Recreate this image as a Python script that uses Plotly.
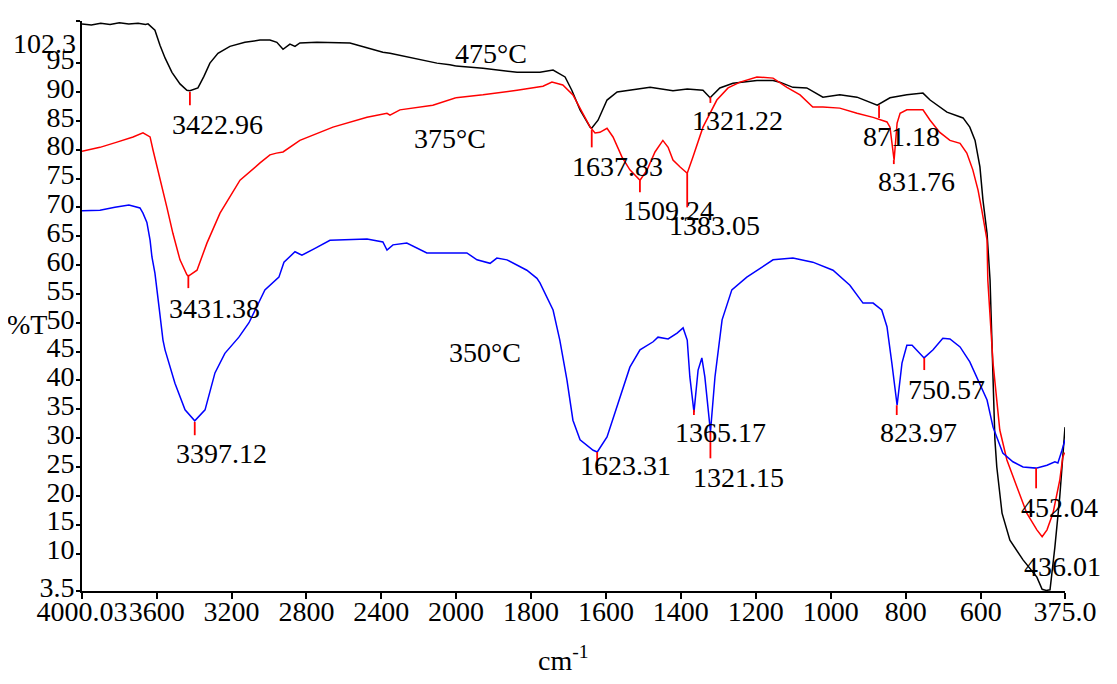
import plotly.graph_objects as go

# ---------------- data ----------------
black_wn = [4000, 3950, 3900, 3850, 3800, 3750, 3700, 3660, 3647, 3610,
            3583, 3556, 3519, 3476, 3439, 3423, 3380, 3348, 3316, 3273,
            3209, 3129, 3048, 2995, 2958, 2925, 2888, 2861, 2835, 2744,
            2567, 2391, 2353, 2247, 2102, 2033, 2000, 1928, 1837, 1776,
            1741, 1709, 1691, 1669, 1642, 1638, 1621, 1597, 1570, 1536,
            1482, 1421, 1383, 1341, 1322, 1296, 1261, 1197, 1154, 1136,
            1101, 1064, 1021, 976, 930, 876, 842, 797, 754, 735,
            690, 647, 629, 615, 602, 594, 583, 575, 567, 562,
            557, 543, 522, 487, 450, 436, 425, 415, 402, 389, 375]
black_t = [101.8, 101.6, 101.9, 101.7, 102.0, 101.8, 101.9, 101.7, 101.8, 100.7,
           98.1, 95.9, 93.4, 91.4, 90.3, 90.2, 90.7, 92.7, 95.0, 96.7,
           97.9, 98.6, 99.0, 99.0, 98.6, 97.4, 98.3, 97.9, 98.5, 98.6,
           98.5, 96.9, 96.7, 96.0, 95.0, 94.7, 94.5, 94.1, 93.4, 93.4,
           93.8, 92.6, 90.3, 86.9, 83.9, 83.7, 85.1, 88.6, 90.0, 90.3,
           90.8, 90.2, 90.5, 90.3, 89.0, 90.7, 91.5, 92.0, 92.0, 91.7,
           90.8, 90.7, 89.1, 89.5, 89.1, 87.7, 89.0, 89.5, 89.8, 88.6,
           86.5, 85.5, 83.9, 81.6, 77.0, 71.3, 65.5, 57.4, 40.1, 29.7,
           25.0, 17.0, 12.3, 8.9, 5.9, 3.8, 3.6, 3.7, 11.1, 19.8, 31.9]

red_wn = [4000, 3904, 3813, 3727, 3674, 3636, 3620, 3583, 3546, 3514,
          3476, 3439, 3431, 3385, 3332, 3262, 3155, 3048, 2995, 2960,
          2925, 2835, 2658, 2476, 2369, 2353, 2300, 2124, 2033, 2000,
          1928, 1837, 1768, 1744, 1723, 1715, 1688, 1661, 1642, 1629,
          1616, 1597, 1581, 1557, 1536, 1509, 1490, 1469, 1448, 1434,
          1421, 1402, 1383, 1368, 1341, 1304, 1274, 1242, 1197, 1154,
          1117, 1082, 1048, 1021, 976, 930, 887, 850, 842, 831,
          823, 815, 797, 754, 735, 709, 682, 655, 637, 621,
          607, 597, 583, 581, 575, 567, 549, 530, 503, 477,
          450, 436, 423, 407, 389, 381, 376]
red_t = [79.7, 80.4, 81.3, 82.2, 82.9, 82.2, 79.9, 75.2, 70.0, 65.5,
         60.9, 58.3, 58.1, 59.1, 63.8, 69.0, 74.7, 77.7, 79.1, 79.4,
         79.6, 81.6, 83.9, 85.6, 86.3, 86.0, 86.9, 87.7, 88.6, 89.0,
         89.5, 90.3, 91.0, 91.7, 91.4, 91.2, 89.5, 86.3, 83.9, 82.9,
         83.0, 83.7, 82.2, 78.7, 76.5, 74.7, 76.5, 79.6, 81.6, 80.4,
         78.2, 77.0, 75.9, 78.7, 83.9, 88.6, 90.7, 91.7, 92.6, 92.4,
         90.8, 89.5, 87.4, 87.4, 87.2, 86.3, 85.6, 84.8, 83.9, 78.2,
         84.6, 86.3, 86.9, 86.9, 85.1, 83.0, 81.6, 81.1, 79.4, 76.5,
         73.0, 69.5, 64.3, 57.4, 50.5, 43.0, 31.4, 26.2, 21.5, 17.0,
         14.1, 12.9, 14.1, 17.0, 22.7, 26.7, 27.5]

blue_wn = [4000, 3904, 3824, 3749, 3690, 3674, 3653, 3636, 3626, 3610,
           3588, 3567, 3556, 3503, 3449, 3401, 3397, 3342, 3289, 3236,
           3161, 3107, 3022, 2947, 2920, 2861, 2824, 2754, 2674, 2476,
           2391, 2369, 2337, 2263, 2156, 2000, 1971, 1944, 1909, 1891,
           1864, 1811, 1784, 1776, 1741, 1723, 1704, 1688, 1669, 1634,
           1623, 1597, 1562, 1536, 1509, 1474, 1461, 1434, 1410, 1394,
           1383, 1376, 1365, 1354, 1344, 1336, 1321, 1309, 1290, 1264,
           1224, 1154, 1101, 1048, 994, 949, 914, 887, 864, 850,
           837, 823, 810, 797, 783, 751, 727, 701, 682, 655,
           629, 602, 583, 567, 541, 514, 487, 452, 423, 402,
           394, 383, 375]
blue_t = [69.4, 69.5, 70.0, 70.4, 69.9, 69.0, 67.4, 64.3, 61.4, 58.6,
          52.7, 47.0, 45.3, 39.5, 34.9, 33.0, 33.0, 34.9, 41.3, 44.7,
          47.5, 50.0, 55.7, 57.9, 60.5, 62.3, 61.7, 62.9, 64.3, 64.5,
          64.0, 62.6, 63.5, 63.8, 62.1, 62.1, 62.1, 60.9, 60.3, 61.2,
          60.9, 59.1, 57.7, 56.9, 52.2, 47.0, 40.1, 33.1, 29.7, 27.9,
          27.6, 30.2, 37.1, 42.3, 45.3, 46.7, 47.5, 47.2, 48.2, 49.1,
          47.0, 40.6, 34.5, 41.8, 43.9, 40.6, 31.1, 40.6, 50.5, 55.7,
          57.9, 60.9, 61.2, 60.5, 59.1, 56.5, 53.4, 53.4, 52.2, 49.3,
          43.0, 35.7, 43.0, 46.1, 46.1, 43.9, 45.3, 47.3, 47.2, 45.8,
          43.2, 39.5, 36.6, 31.9, 27.4, 25.9, 25.0, 24.8, 25.3, 25.9,
          25.7, 27.9, 29.7]

# peak markers: wavenumber, %T at peak, %T at marker end
peak_wn = [3422.96, 3431.38, 3397.12, 1637.83, 1509.24, 1383.05, 1321.22,
           871.18, 831.76, 1623.31, 1365.17, 1321.15, 823.97, 750.57, 452.04]
peak_top = [90.0, 58.3, 32.8, 83.4, 74.7, 75.9, 89.1,
            87.7, 78.2, 27.6, 34.9, 31.1, 35.7, 43.9, 24.8]
peak_end = [87.7, 56.0, 30.5, 80.4, 72.6, 70.0, 88.1,
            85.5, 77.5, 23.9, 34.0, 26.5, 34.0, 41.8, 21.3]

# text labels (text, wavenumber, %T of label centre)
label_text = ["3422.96", "3431.38", "3397.12", "1637.83", "1509.24", "1383.05",
              "1321.22", "871.18", "831.76", "1623.31", "1365.17", "1321.15",
              "823.97", "750.57", "452.04", "436.01", "475°C", "375°C", "350°C"]
label_wn = [3273, 3289, 3252, 1568, 1434, 1309, 1248, 810, 770, 1549, 1293,
            1245, 767, 690, 389, 381, 1907, 2033, 1923]
label_t = [84.4, 52.5, 27.4, 77.0, 69.5, 66.9, 85.1, 82.2, 74.4, 25.3, 30.9,
           23.1, 30.9, 38.5, 17.9, 7.7, 96.7, 82.0, 44.9]

x_left_ticks = [4000.03, 3600, 3200, 2800, 2400, 2000]
x_left_text = ["4000.03", "3600", "3200", "2800", "2400", "2000"]
x_right_ticks = [1800, 1600, 1400, 1200, 1000, 800, 600, 375]
x_right_text = ["1800", "1600", "1400", "1200", "1000", "800", "600", "375.0"]
y_ticks = [3.5, 10, 15, 20, 25, 30, 35, 40, 45, 50, 55, 60, 65, 70, 75, 80,
           85, 90, 95, 102.3]
y_text = ["3.5"] + [str(v) for v in y_ticks[1:-1]] + ["102.3"]

BREAK = 2000
FONT = "Liberation Serif, Times New Roman, serif"

fig = go.Figure()


def add_series(wn, t, color):
    left = [(w, v) for w, v in zip(wn, t) if w >= BREAK]
    right = [(w, v) for w, v in zip(wn, t) if w <= BREAK]
    for pts, xa in ((left, "x"), (right, "x2")):
        fig.add_trace(go.Scatter(
            x=[p[0] for p in pts], y=[p[1] for p in pts], xaxis=xa, yaxis="y",
            mode="lines", line=dict(color=color, width=1.5),
            hoverinfo="skip", showlegend=False))


add_series(black_wn, black_t, "#000000")
add_series(red_wn, red_t, "#ff0000")
add_series(blue_wn, blue_t, "#0000ff")

# peak marker lines
for xa, cond in (("x", lambda w: w >= BREAK), ("x2", lambda w: w < BREAK)):
    xs, ys = [], []
    for w, a, b in zip(peak_wn, peak_top, peak_end):
        if cond(w):
            xs += [w, w, None]
            ys += [a, b, None]
    fig.add_trace(go.Scatter(x=xs, y=ys, xaxis=xa, yaxis="y", mode="lines",
                             line=dict(color="#ff0000", width=1.8),
                             hoverinfo="skip", showlegend=False))

annotations = []
for txt, w, v in zip(label_text, label_wn, label_t):
    annotations.append(dict(
        text=txt, x=w, y=v, xref="x" if w > BREAK else "x2", yref="y",
        showarrow=False, font=dict(family=FONT, size=28, color="black"),
        xanchor="center", yanchor="middle"))

annotations.append(dict(text="%T", x=-0.056, y=0.467, xref="paper",
                        yref="paper", showarrow=False,
                        xanchor="center", yanchor="middle",
                        font=dict(family=FONT, size=28, color="black")))
annotations.append(dict(text="cm<sup>-1</sup>", x=0.49, y=-0.118,
                        xref="paper", yref="paper", showarrow=False,
                        xanchor="center", yanchor="middle",
                        font=dict(family=FONT, size=28, color="black")))
# the top tick label sits a little below its tick in the reference
annotations.append(dict(text=y_text[-1], x=-0.004, y=0.96, xref="paper",
                        yref="paper", showarrow=False,
                        xanchor="right", yanchor="middle",
                        font=dict(family=FONT, size=28, color="black")))
y_text_shown = y_text[:-1] + [""]

axis_common = dict(showline=True, linecolor="black", linewidth=2,
                   showgrid=False, zeroline=False, ticks="outside",
                   ticklen=6, tickwidth=1.5, tickcolor="black",
                   tickangle=0, tickmode="array", automargin=False,
                   tickfont=dict(family=FONT, size=28, color="black"))

# the page body adds an 8 px offset; size/margins compensate for it
split = 374 / 983
fig.update_layout(
    width=1101, height=668,
    margin=dict(l=74, r=44, t=13, b=85),
    paper_bgcolor="white", plot_bgcolor="white",
    showlegend=False,
    xaxis=dict(domain=[0, split], range=[4000.03, BREAK],
               tickvals=x_left_ticks, ticktext=x_left_text, anchor="y",
               ticklabelstandoff=-12, **axis_common),
    xaxis2=dict(domain=[split, 1], range=[BREAK, 375],
                tickvals=x_right_ticks, ticktext=x_right_text, anchor="y",
                ticklabelstandoff=-12, **axis_common),
    yaxis=dict(range=[3.5, 102.3], tickvals=y_ticks, ticktext=y_text_shown,
               anchor="x", ticklabelshift=-4, ticklabelstandoff=-4,
               **{**axis_common, "ticklen": 4}),
    annotations=annotations,
)

fig.write_html("out.html")
